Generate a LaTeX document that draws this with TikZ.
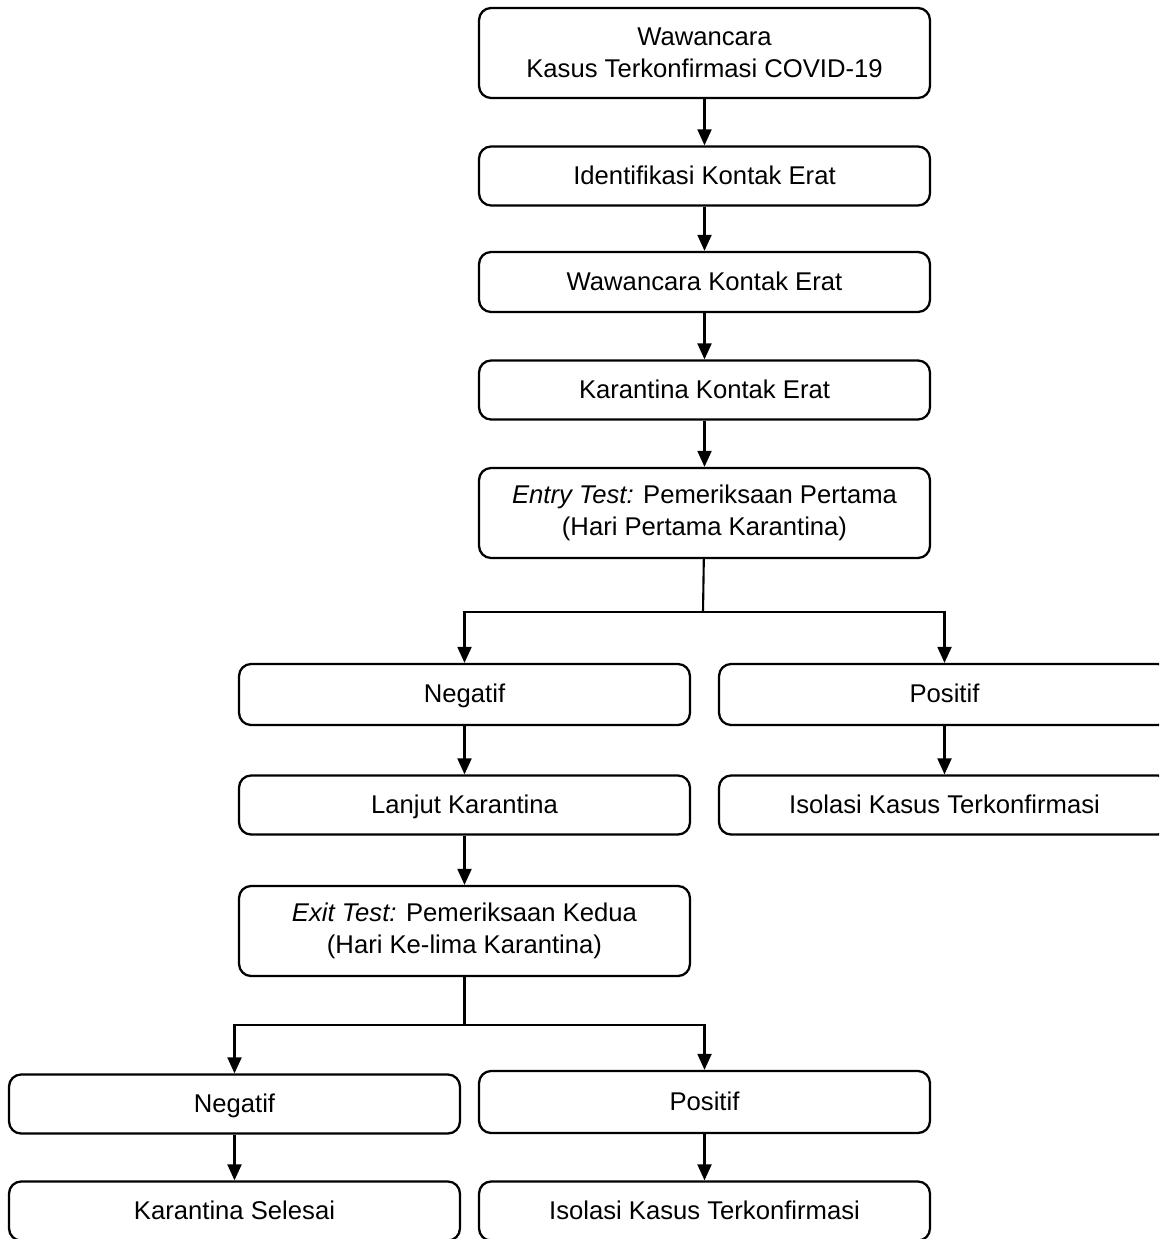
\documentclass[tikz,border=0pt]{standalone}
\usepackage{fontspec}
\setmainfont{Liberation Sans}
\usetikzlibrary{arrows.meta}

\begin{document}
\begin{tikzpicture}[x=0.02cm,y=-0.02cm,
  every node/.style={font=\fontsize{14.6}{18.2}\selectfont},
  box/.style={draw, line width=1.3pt, rounded corners=2.4mm, minimum width=9.02cm, minimum height=1.18cm, align=center, inner sep=0pt, text height=1.05em, text depth=0.1em},
  tallbox/.style={box, minimum height=1.8cm, text height=, text depth=},
  arr/.style={-{Triangle[width=2.8mm,length=3.2mm]}, line width=1.2pt}]
\useasboundingbox (0,0) rectangle (1159,1239);
\clip (0,0) rectangle (1159,1239);

\node[tallbox] (wawancara) at (704.5,53) {Wawancara\\Kasus Terkonfirmasi COVID-19};
\node[box] (identifikasi) at (704.5,176) {Identifikasi Kontak Erat};
\node[box, minimum height=1.2cm] (wkontak) at (704.5,282) {Wawancara Kontak Erat};
\node[box] (karantina) at (704.5,390) {Karantina Kontak Erat};
\node[tallbox] (entry) at (704.5,513) {\textit{Entry Test:} Pemeriksaan Pertama\\(Hari Pertama Karantina)};
\node[box, minimum height=1.22cm] (negatif) at (464.5,694.5) {Negatif};
\node[box, minimum height=1.22cm] (positif) at (944.5,694.5) {Positif};
\node[box] (lanjut) at (464.5,805) {Lanjut Karantina};
\node[box] (isolasi) at (944.5,805) {Isolasi Kasus Terkonfirmasi};
\node[tallbox] (exit) at (464.5,931) {\textit{Exit Test:} Pemeriksaan Kedua\\(Hari Ke-lima Karantina)};
\node[box] (negatifdua) at (234.5,1104) {Negatif};
\node[box, minimum height=1.24cm] (positifdua) at (704.5,1102) {Positif};
\node[box] (selesai) at (234.5,1211) {Karantina Selesai};
\node[box] (isolasidua) at (704.5,1211) {Isolasi Kasus Terkonfirmasi};

\draw[arr] (wawancara) -- (identifikasi);
\draw[arr] (identifikasi) -- (wkontak);
\draw[arr] (wkontak) -- (karantina);
\draw[arr] (karantina) -- (entry);

% cabang hasil entry test
\coordinate (pisah) at (703,612);
\draw[line width=1.2pt] (entry) -- (pisah);
\draw[arr] (pisah) -| (negatif);
\draw[arr] (pisah) -| (positif);
\draw[arr] (negatif) -- (lanjut);
\draw[arr] (positif) -- (isolasi);
\draw[arr] (lanjut) -- (exit);

% cabang hasil exit test
\coordinate (pisahdua) at (464.5,1025);
\draw[line width=1.2pt] (exit) -- (pisahdua);
\draw[arr] (pisahdua) -| (negatifdua);
\draw[arr] (pisahdua) -| (positifdua);
\draw[arr] (negatifdua) -- (selesai);
\draw[arr] (positifdua) -- (isolasidua);
\end{tikzpicture}
\end{document}
